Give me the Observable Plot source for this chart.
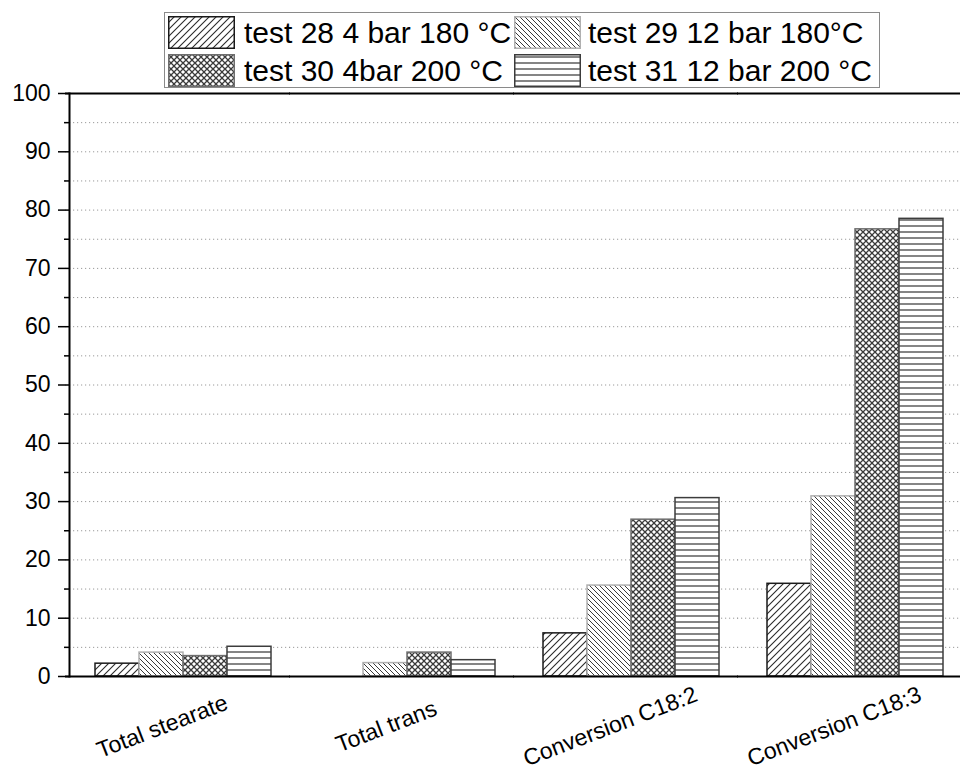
<!DOCTYPE html>
<html><head><meta charset="utf-8">
<script src="https://cdn.jsdelivr.net/npm/d3@7"></script>
<script src="https://cdn.jsdelivr.net/npm/@observablehq/plot@0.6"></script>
<style>
body{margin:0;background:#fff;font-family:"Liberation Sans",Arial,sans-serif;}
#legend{position:relative;height:91px;width:960px;}
#lbox{position:absolute;left:164px;top:12px;width:714px;height:74px;border:1px solid #8a8a8a;background:#fff;}
.sw{position:absolute;width:67px;height:33px;}
.lt{position:absolute;height:33px;line-height:33px;font-size:30px;color:#000;white-space:nowrap;}
#chart g[aria-label="y-axis tick label"] text{font-size:23px;}
</style></head><body>
<svg width="0" height="0" style="position:absolute">
<defs>
<pattern id="p28" patternUnits="userSpaceOnUse" width="7" height="7">
 <rect width="7" height="7" fill="#fff"/>
 <path d="M-1,8 L8,-1 M-1,1 L1,-1 M6,8 L8,6" stroke="#2a2a2a" stroke-width="1.1" fill="none"/>
</pattern>
<pattern id="p29" patternUnits="userSpaceOnUse" width="5" height="5">
 <rect width="5" height="5" fill="#fff"/>
 <path d="M-1,-1 L6,6 M4,-1 L6,1 M-1,4 L1,6" stroke="#3a3a3a" stroke-width="1" fill="none"/>
</pattern>
<pattern id="p30" patternUnits="userSpaceOnUse" width="6" height="6">
 <rect width="6" height="6" fill="#fff"/>
 <path d="M-1,-1 L7,7 M7,-1 L-1,7" stroke="#3a3a3a" stroke-width="1.3" fill="none"/>
</pattern>
<pattern id="p31" patternUnits="userSpaceOnUse" width="6" height="6">
 <rect width="6" height="6" fill="#fff"/>
 <path d="M0,3 L6,3" stroke="#333" stroke-width="1.2" fill="none"/>
</pattern>
</defs>
</svg>
<div id="legend"><div id="lbox"></div></div>
<div id="chart"></div>
<script>
const categories = ["Total stearate", "Total trans", "Conversion C18:2", "Conversion C18:3"];
const seriesNames = ["test 28 4 bar 180 °C", "test 29 12 bar 180°C", "test 30 4bar 200 °C", "test 31 12 bar 200 °C"];
const test28 = [2.2, 0, 7.4, 15.9];
const test29 = [4.1, 2.3, 15.6, 30.9];
const test30 = [3.5, 4.1, 26.9, 76.7];
const test31 = [5.1, 2.8, 30.6, 78.5];
const yTicks = [0, 10, 20, 30, 40, 50, 60, 70, 80, 90, 100];

const seriesValues = [test28, test29, test30, test31];
const patternUrls = ["url(#p28)", "url(#p29)", "url(#p30)", "url(#p31)"];
const strokes = ["#1a1a1a", "#b0b0b0", "#6e6e6e", "#3c3c3c"];

const rows = [];
seriesNames.forEach((s, i) => categories.forEach((c, j) => rows.push({category: c, series: s, value: seriesValues[i][j]})));

// legend
const lbox = document.getElementById("lbox");
const legPos = [[3, 3, 79], [349, 3, 423], [3, 41, 79], [349, 41, 423]];
seriesNames.forEach((s, i) => {
  const [sx, sy, tx] = legPos[i];
  const ns = "http://www.w3.org/2000/svg";
  const svg = document.createElementNS(ns, "svg");
  svg.setAttribute("class", "sw");
  svg.setAttribute("width", 67); svg.setAttribute("height", 33);
  svg.style.left = sx + "px"; svg.style.top = sy + "px";
  const r = document.createElementNS(ns, "rect");
  r.setAttribute("x", 0.75); r.setAttribute("y", 0.75); r.setAttribute("width", 65.5); r.setAttribute("height", 31.5);
  r.setAttribute("fill", patternUrls[i]); r.setAttribute("stroke", strokes[i]); r.setAttribute("stroke-width", 1.5);
  svg.appendChild(r);
  lbox.appendChild(svg);
  const t = document.createElement("div");
  t.className = "lt"; t.textContent = s;
  t.style.left = tx + "px"; t.style.top = sy + "px";
  lbox.appendChild(t);
});

const minorTicks = yTicks.slice(0, -1).map(v => v + 5);
const gridVals = d3.sort([...yTicks.slice(1, -1), ...minorTicks]);

const chart = Plot.plot({
  width: 960, height: 680,
  marginTop: 2, marginBottom: 95, marginLeft: 67, marginRight: 0,
  style: {fontFamily: "'Liberation Sans', Arial, sans-serif", fontSize: "23px", color: "#000", background: "#fff", overflow: "visible"},
  fx: {domain: categories, paddingInner: 0.0311, paddingOuter: 0, axis: null, label: null},
  x: {domain: seriesNames, padding: 0, insetLeft: 24, insetRight: 14, axis: null},
  y: {domain: [0, 100], axis: null},
  marks: [
    Plot.gridY(gridVals, {stroke: "#9a9a9a", strokeOpacity: 1, strokeDasharray: "1.2,2.8", strokeWidth: 1, insetLeft: -4, insetRight: -4}),
    ...seriesNames.map((s, i) => Plot.barY(rows.filter(r => r.series === s && r.value > 0), {
      fx: "category", x: "series", y: "value", fill: patternUrls[i], stroke: strokes[i], strokeWidth: 1.5
    })),
    Plot.axisY(yTicks, {label: null, tickSize: 11, tickPadding: 8, fontSize: 23, strokeWidth: 1.5}),
    Plot.axisY(minorTicks, {label: null, tickSize: 5, tickFormat: () => "", strokeWidth: 1.5}),
    Plot.ruleY([0, 100], {stroke: "#000", strokeWidth: 2, insetLeft: -4, insetRight: -4}),
    Plot.frame({anchor: "left", facetAnchor: "left", stroke: "#000", strokeWidth: 2}),
    Plot.text(categories, {fx: d => d, frameAnchor: "bottom", dx: -13, dy: 57, rotate: -21, fontSize: 23, fill: "#000"})
  ]
});
document.getElementById("chart").appendChild(chart);
</script>
</body></html>
